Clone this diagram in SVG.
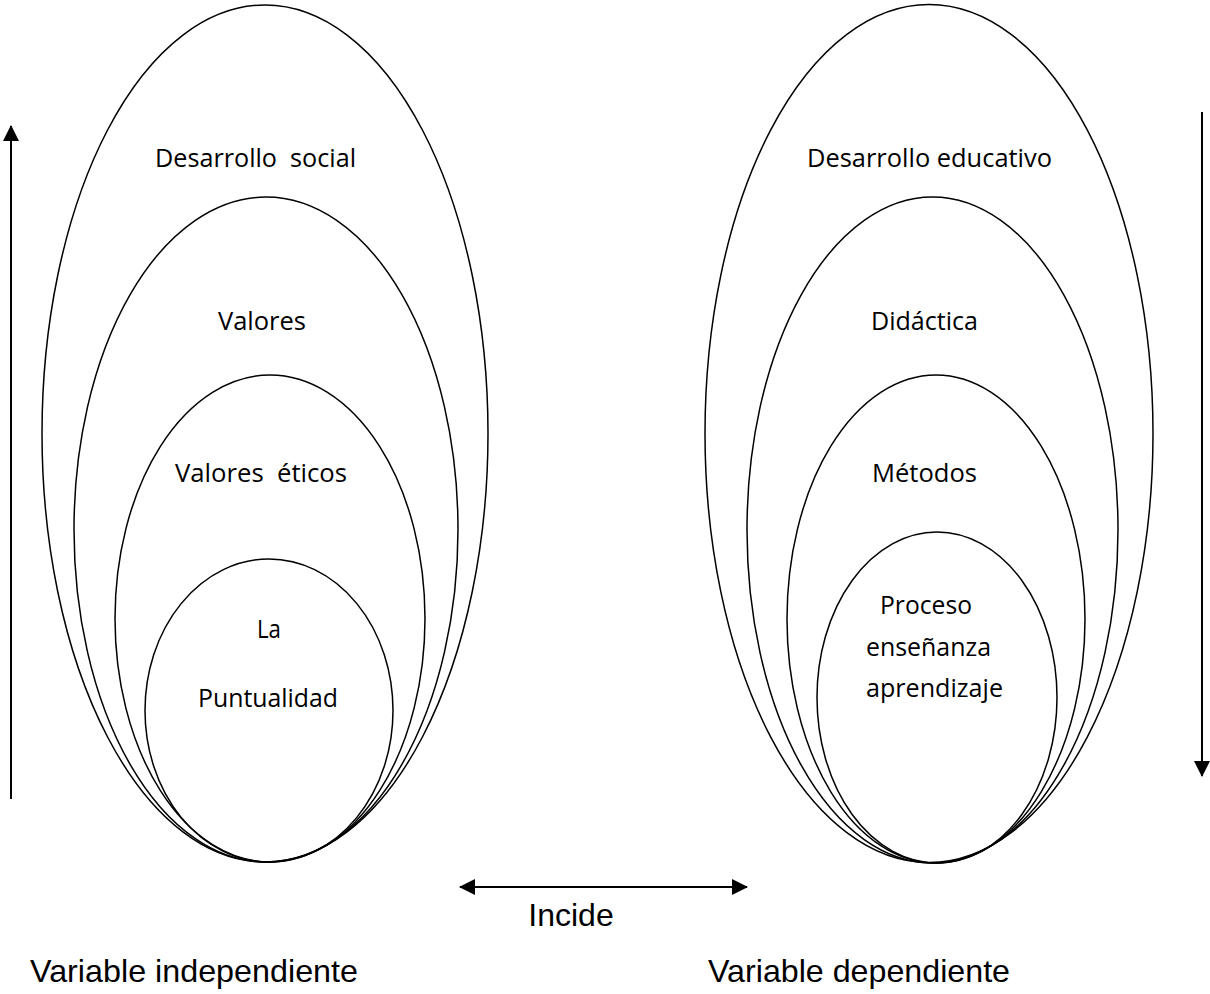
<svg xmlns="http://www.w3.org/2000/svg" width="1210" height="994" viewBox="0 0 1210 994">
<style>
.e{fill:none;stroke:#000;stroke-width:1.5}
.c{stroke:#000;stroke-width:2;fill:none}
.t{font-family:"Open Sans","Noto Sans",sans-serif;font-size:25px;fill:#000;text-anchor:middle}
.b{font-family:"Liberation Sans",Arial,sans-serif;font-size:32px;fill:#000}
</style>
<defs>
<marker id="ah" markerUnits="userSpaceOnUse" markerWidth="16" markerHeight="16" refX="15" refY="8" orient="auto-start-reverse" viewBox="0 0 16 16">
<path d="M0,0 L16,8 L0,16 z" fill="#000"/>
</marker>
</defs>
<rect width="1210" height="994" fill="#fff"/>
<g id="left-e1"><ellipse class="e" cx="265" cy="433.5" rx="223" ry="428.5"/><text class="t" x="255.5" y="167" textLength="201" lengthAdjust="spacingAndGlyphs" xml:space="preserve">Desarrollo  social</text></g>
<g id="left-e2"><ellipse class="e" cx="266" cy="529.5" rx="192" ry="332.5"/><text class="t" x="262" y="330" textLength="88" lengthAdjust="spacingAndGlyphs">Valores</text></g>
<g id="left-e3"><ellipse class="e" cx="270" cy="618.5" rx="155" ry="243.5"/><text class="t" x="261" y="482" textLength="172" lengthAdjust="spacingAndGlyphs" xml:space="preserve">Valores  éticos</text></g>
<g id="left-e4"><ellipse class="e" cx="269" cy="710.5" rx="124" ry="151.5"/><text class="t" x="269" y="638" textLength="24" lengthAdjust="spacingAndGlyphs">La</text><text class="t" x="268" y="707" textLength="140" lengthAdjust="spacingAndGlyphs">Puntualidad</text></g>
<g id="right-e1"><ellipse class="e" cx="929" cy="433.5" rx="224" ry="429"/><text class="t" x="929.5" y="167" textLength="245" lengthAdjust="spacingAndGlyphs">Desarrollo educativo</text></g>
<g id="right-e2"><ellipse class="e" cx="932.5" cy="530" rx="185.5" ry="333"/><text class="t" x="924.5" y="330" textLength="107" lengthAdjust="spacingAndGlyphs">Didáctica</text></g>
<g id="right-e3"><ellipse class="e" cx="936" cy="619" rx="149" ry="244"/><text class="t" x="924.5" y="482" textLength="105" lengthAdjust="spacingAndGlyphs">Métodos</text></g>
<g id="right-e4"><ellipse class="e" cx="937" cy="697.5" rx="120" ry="165.5"/><text class="t" x="926" y="614" textLength="92" lengthAdjust="spacingAndGlyphs">Proceso</text><text class="t" x="928.5" y="656" textLength="125" lengthAdjust="spacingAndGlyphs">enseñanza</text><text class="t" x="934.5" y="697" textLength="137" lengthAdjust="spacingAndGlyphs">aprendizaje</text></g>
<g id="connectors">
<line class="c" x1="11" y1="799" x2="11" y2="126" marker-end="url(#ah)"/>
<line class="c" x1="1202" y1="112" x2="1202" y2="776" marker-end="url(#ah)"/>
<line class="c" x1="460" y1="887" x2="747" y2="887" marker-start="url(#ah)" marker-end="url(#ah)"/>
</g>
<g id="labels">
<text class="b" x="571" y="926" text-anchor="middle">Incide</text>
<text class="b" x="30" y="982" textLength="328" lengthAdjust="spacingAndGlyphs">Variable independiente</text>
<text class="b" x="708" y="982" textLength="302" lengthAdjust="spacingAndGlyphs">Variable dependiente</text>
</g>
</svg>
